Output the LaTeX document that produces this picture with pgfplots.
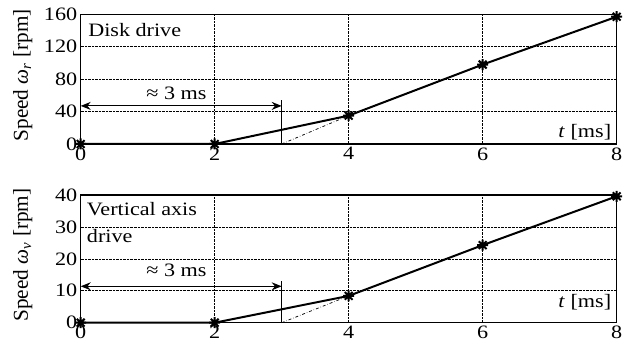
\documentclass[border=0pt]{standalone}
\usepackage{fontspec}
\setmainfont{Liberation Serif}[FakeStretch=1.17]
\newfontfamily\labfont{Liberation Serif}
\usepackage{pgfplots}
\pgfplotsset{compat=1.18}
\usetikzlibrary{arrows.meta}
\newcommand{\fs}{\fontsize{19}{27}\selectfont}
\pgfdeclareplotmark{ast8}{%
  \pgfpathmoveto{\pgfqpoint{0pt}{\pgfplotmarksize}}\pgfpathlineto{\pgfqpoint{0pt}{-\pgfplotmarksize}}%
  \pgfpathmoveto{\pgfqpoint{\pgfplotmarksize}{0pt}}\pgfpathlineto{\pgfqpoint{-\pgfplotmarksize}{0pt}}%
  \pgfpathmoveto{\pgfqpoint{0.707\pgfplotmarksize}{0.707\pgfplotmarksize}}\pgfpathlineto{\pgfqpoint{-0.707\pgfplotmarksize}{-0.707\pgfplotmarksize}}%
  \pgfpathmoveto{\pgfqpoint{-0.707\pgfplotmarksize}{0.707\pgfplotmarksize}}\pgfpathlineto{\pgfqpoint{0.707\pgfplotmarksize}{-0.707\pgfplotmarksize}}%
  \pgfusepathqstroke}
\pgfplotsset{mystyle/.style={
  scale only axis, width=536bp, xmin=0, xmax=8, xtick={0,2,4,6,8},
  grid=major, major grid style={densely dotted, black, line width=0.7bp},
  major tick length=0, axis line style={line width=1.1bp},
  tick label style={font=\fs}, label style={font=\labfont\fontsize{21.3}{23}\selectfont},
  /pgf/number format/assume math mode=true, clip=false,
  ylabel style={at={(axis description cs:-0.108,0.53)}, anchor=center, rotate=0},
}}
\tikzset{dataline/.style={black, line width=2bp, mark=ast8, mark size=5.5bp, mark options={line width=2bp}},
  arr/.style={{Stealth[length=10bp,width=8bp]}-{Stealth[length=10bp,width=8bp]}, line width=1.2bp}}
\begin{document}
\begin{tikzpicture}
% bottom axis
\begin{axis}[mystyle, at={(0,0)}, height=127.7bp, ymin=0, ymax=40, ytick={0,10,20,30,40},
  ylabel={Speed \textit{ω}\textsubscript{\textit{v}} [rpm]}]
\addplot[black, dash dot, line width=0.7bp, forget plot] coordinates {(3,0) (4,8.4)};
\addplot[black, line width=1bp, forget plot] coordinates {(3,0) (3,13)};
\addplot[dataline] coordinates {(0,0) (2,0) (4,8.4) (6,24.3) (8,39.6)};
\draw[arr] (axis cs:0,11.4) -- (axis cs:3,11.4);
\node[font=\fs, anchor=base] at (axis cs:1.43,14.6) {≈ 3 ms};
\node[font=\fs, anchor=north west, align=left, inner sep=0pt] at (axis cs:0.09,37.6) {Vertical axis\\drive};
\node[font=\fs, anchor=base east, inner sep=0pt] at (axis cs:7.92,4.7) {\textit{t} [ms]};
\end{axis}
% top axis
\begin{axis}[mystyle, at={(0,178.7bp)}, height=129.7bp, ymin=0, ymax=160, ytick={0,40,80,120,160},
  ylabel={Speed \textit{ω}\textsubscript{\textit{r}} [rpm]}]
\addplot[black, dash dot, line width=0.7bp, forget plot] coordinates {(3,0) (4,35)};
\addplot[black, line width=1bp, forget plot] coordinates {(3,0) (3,54)};
\addplot[dataline] coordinates {(0,0) (2,0) (4,35) (6,98) (8,157)};
\draw[arr] (axis cs:0,47) -- (axis cs:3,47);
\node[font=\fs, anchor=base] at (axis cs:1.43,55.5) {≈ 3 ms};
\node[font=\fs, anchor=base west, inner sep=0pt] at (axis cs:0.11,133) {Disk drive};
\node[font=\fs, anchor=base east, inner sep=0pt] at (axis cs:7.92,7.5) {\textit{t} [ms]};
\end{axis}
\pgfresetboundingbox
\path (-80.7bp,-29.3bp) rectangle (554.3bp,322.7bp);
\end{tikzpicture}
\end{document}
